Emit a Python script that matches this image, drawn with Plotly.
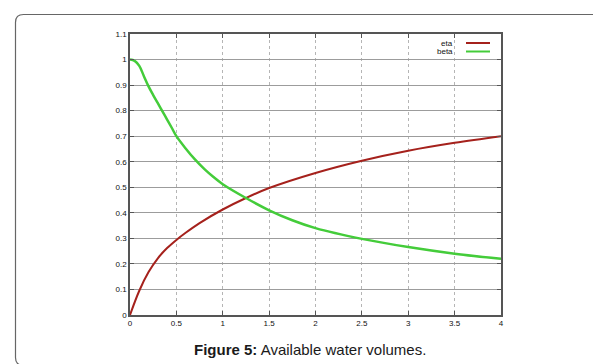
import plotly.graph_objects as go

# ---- data ----
eta_x = [0, 0.1, 0.2, 0.3, 0.4, 0.5, 0.6, 0.75, 1.0, 1.25, 1.5, 2.0, 2.5, 3.0, 3.5, 4.0]
eta_y = [0, 0.095, 0.168, 0.222, 0.262, 0.294, 0.322, 0.36, 0.413, 0.458, 0.497, 0.556,
         0.604, 0.643, 0.674, 0.70]

beta_x = [0, 0.05, 0.1, 0.15, 0.2, 0.25, 0.3, 0.35, 0.4, 0.45, 0.5, 0.6, 0.7, 0.8, 0.9, 1.0,
          1.25, 1.5, 1.75, 2.0, 2.5, 3.0, 3.5, 4.0]
beta_y = [1.0, 0.995, 0.975, 0.935, 0.895, 0.861, 0.829, 0.797, 0.765, 0.733, 0.70, 0.652,
          0.609, 0.572, 0.54, 0.512, 0.458, 0.41, 0.371, 0.34, 0.298, 0.266, 0.24, 0.22]

x_ticks = [0, 0.5, 1, 1.5, 2, 2.5, 3, 3.5, 4]
x_tick_labels = ["0", "0.5", "1", "1.5", "2", "2.5", "3", "3.5", "4"]
y_ticks = [0, 0.1, 0.2, 0.3, 0.4, 0.5, 0.6, 0.7, 0.8, 0.9, 1.0, 1.1]
y_tick_labels = ["0", "0.1", "0.2", "0.3", "0.4", "0.5", "0.6", "0.7", "0.8", "0.9", "1", "1.1"]

series_names = ["eta", "beta"]
caption = "<b>Figure 5:</b> Available water volumes."

RED = "#a5211c"
GREEN = "#44cc3a"

# ---- geometry (pixels) ----
W, H = 601, 364
PL, PR, PT, PB = 122, 493, 26, 307


def px(X):
    return (X - PL) / (PR - PL)


def py(Y):
    return (PB - Y) / (PB - PT)


fig = go.Figure()
fig.add_trace(go.Scatter(x=eta_x, y=eta_y, mode="lines", name=series_names[0],
                         line=dict(color=RED, width=2, shape="spline", smoothing=1.0),
                         showlegend=False))
fig.add_trace(go.Scatter(x=beta_x, y=beta_y, mode="lines", name=series_names[1],
                         line=dict(color=GREEN, width=2.5, shape="spline", smoothing=1.0),
                         showlegend=False))

tickfont = dict(family="Liberation Sans, Arial, sans-serif", size=8, color="#111")

fig.update_xaxes(range=[0, 4], tickvals=x_ticks, ticktext=x_tick_labels,
                 showgrid=True, gridcolor="#b5b5b5", griddash="dot", gridwidth=1,
                 showline=True, linecolor="#555", linewidth=1.5, mirror="ticks",
                 ticks="inside", ticklen=4, tickcolor="#555", zeroline=False,
                 tickfont=tickfont)
fig.update_yaxes(range=[0, 1.1], tickvals=y_ticks, ticktext=y_tick_labels,
                 showgrid=True, gridcolor="#9c9c9c", gridwidth=1,
                 showline=True, linecolor="#555", linewidth=1.5, mirror="ticks",
                 ticks="inside", ticklen=4, tickcolor="#555", zeroline=False,
                 tickfont=tickfont)

# legend (gnuplot style: text then sample)
leg_font = dict(family="Liberation Sans, Arial, sans-serif", size=8, color="#111")
for name, color, Y in [(series_names[0], RED, 35), (series_names[1], GREEN, 43.5)]:
    fig.add_annotation(x=px(447), y=py(Y), xref="paper", yref="paper", text=name,
                       showarrow=False, xanchor="right", yanchor="middle", font=leg_font)
    fig.add_shape(type="line", xref="paper", yref="paper", x0=px(458), x1=px(482),
                  y0=py(Y), y1=py(Y), line=dict(color=color, width=2))

# caption
fig.add_annotation(x=px(301.5), y=py(341.5), xref="paper", yref="paper", text=caption,
                   showarrow=False, xanchor="center", yanchor="middle",
                   font=dict(family="Liberation Sans, Arial, sans-serif", size=15, color="#1a1a1a"))

# rounded outer border
L, R, T, B, r = 7.5, 594.5, 6.5, 357.5, 8
pts = [("M", L + r, T), ("L", R - r, T), ("Q", R, T, R, T + r), ("L", R, B - r),
       ("Q", R, B, R - r, B), ("L", L + r, B), ("Q", L, B, L, B - r), ("L", L, T + r),
       ("Q", L, T, L + r, T)]
path = ""
for p in pts:
    cmd = p[0]
    coords = p[1:]
    s = []
    for i in range(0, len(coords), 2):
        s.append(f"{px(coords[i]):.5f},{py(coords[i+1]):.5f}")
    path += cmd + " ".join(s) + " "
path += "Z"
fig.add_shape(type="path", path=path, xref="paper", yref="paper",
              line=dict(color="#666", width=1.2))

fig.update_layout(width=W, height=H,
                  margin=dict(l=PL, r=W - PR, t=PT, b=H - PB),
                  paper_bgcolor="white", plot_bgcolor="white")

fig.write_html("out.html")
